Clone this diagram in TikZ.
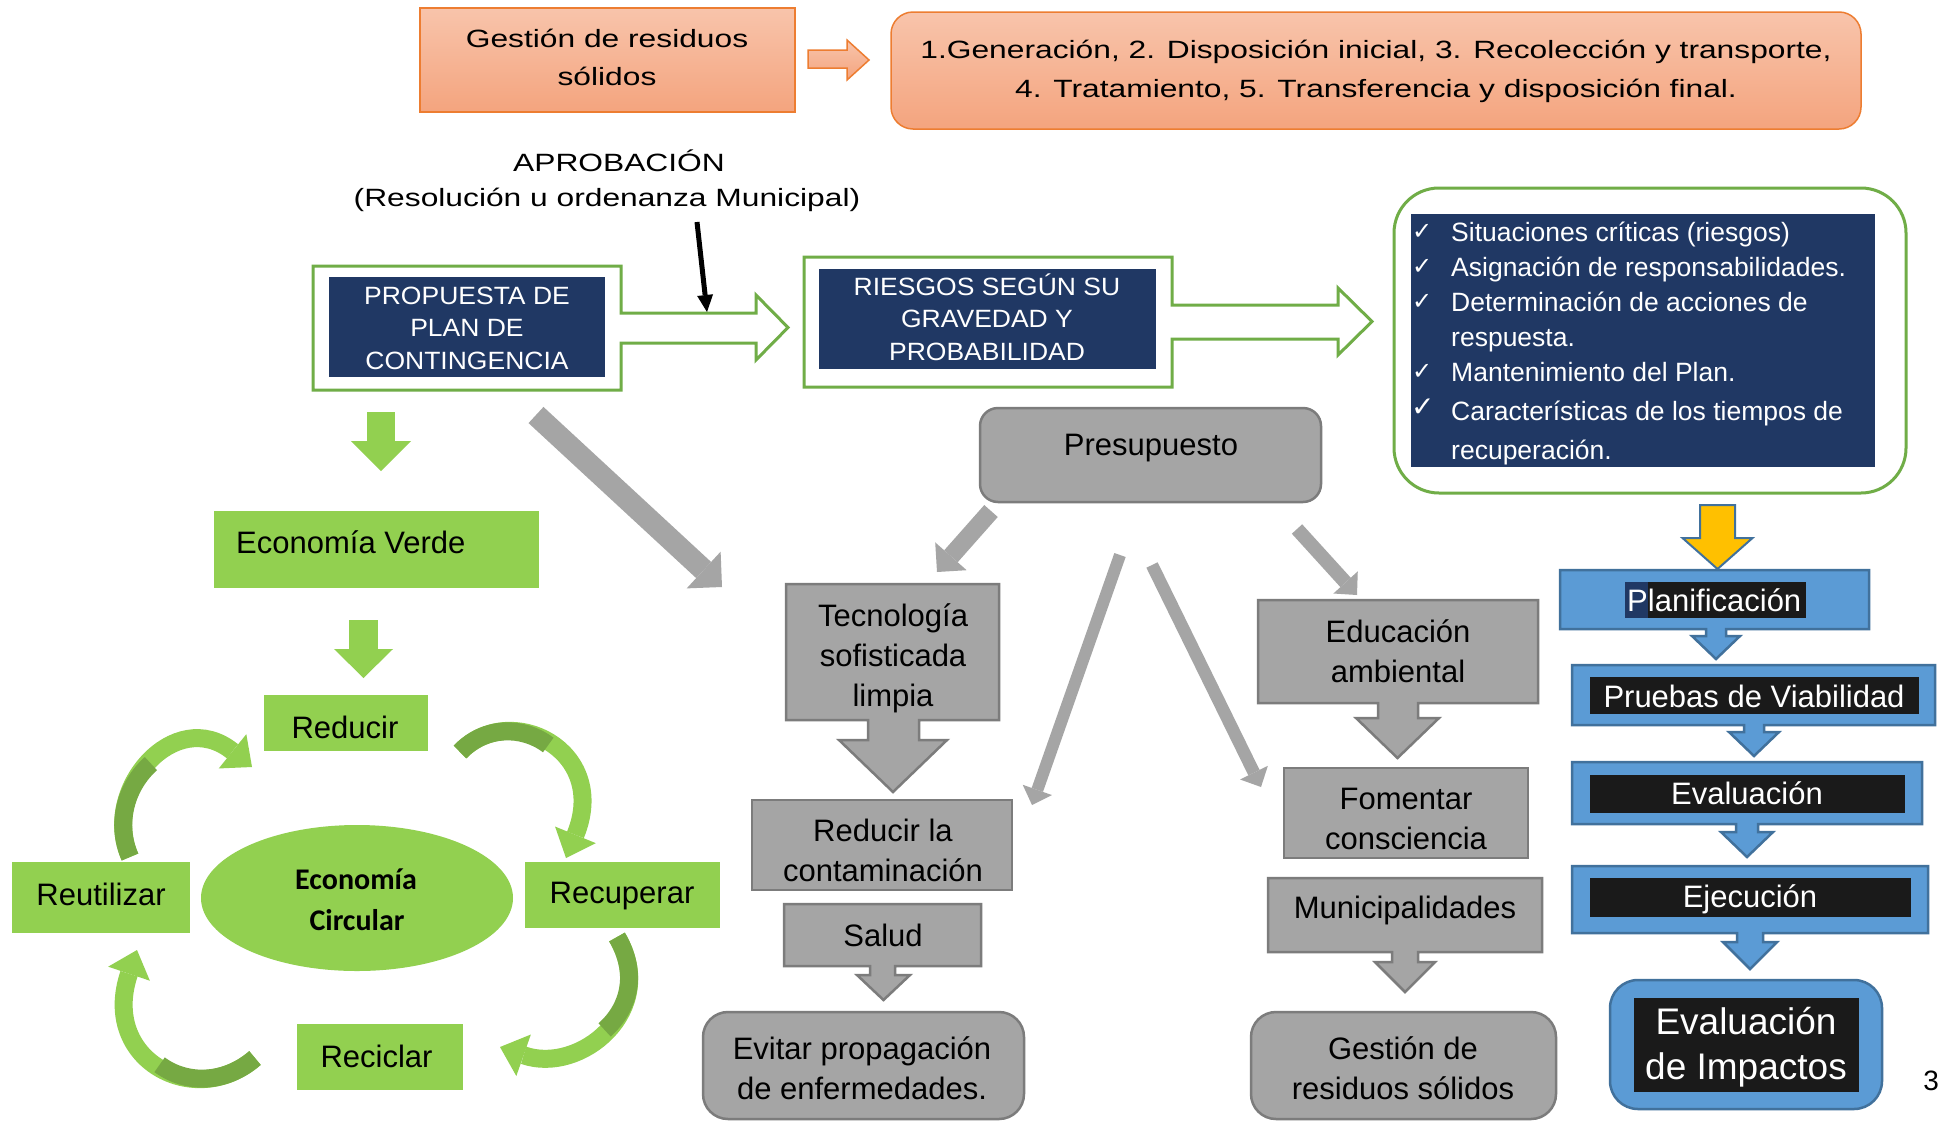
\documentclass[tikz,border=0pt]{standalone}
\usepackage{fontspec}
\setmainfont{Liberation Sans}
\newfontfamily\wideLS[FakeStretch=1.27]{Liberation Sans}
\newfontfamily\midLS[FakeStretch=1.06]{Liberation Sans}
\newfontfamily\carlitoF{Carlito}
\newfontfamily\djv{DejaVu Sans}
\usetikzlibrary{arrows.meta,shapes.geometric}
\definecolor{orB}{HTML}{ED7D31}
\definecolor{orT}{HTML}{F8C4AB}
\definecolor{orBt}{HTML}{F4A47E}
\definecolor{grB}{HTML}{70AD47}
\definecolor{navy}{HTML}{203864}
\definecolor{lgr}{HTML}{92D050}
\definecolor{dgr}{HTML}{76A943}
\definecolor{gyF}{HTML}{A5A5A5}
\definecolor{gyB}{HTML}{7C7C7C}
\definecolor{blF}{HTML}{5B9BD5}
\definecolor{blB}{HTML}{41719C}
\definecolor{yel}{HTML}{FFC000}
\definecolor{hlk}{HTML}{1A1A1A}
\newcommand\setfs[2]{\fontsize{#1}{#2}\selectfont}
\tikzset{
 orbox/.style={draw=orB, line width=1.5pt, top color=orT, bottom color=orBt},
 greenline/.style={draw=grB, line width=3pt, fill=white},
 gybox/.style={fill=gyF, draw=gyB, line width=2.5pt},
 blbox/.style={fill=blF, draw=blB, line width=2.5pt},
 gbox/.style={fill=lgr, inner sep=0pt},
 emptybox/.style={inner sep=0pt},
 txt/.style={inner sep=0pt, font=\setfs{31}{40}},
 ctxt/.style={align=center, inner sep=0pt, font=\setfs{31}{40}},
 wtxt/.style={inner sep=0pt, text=white, font=\setfs{31}{40}},
 chktxt/.style={anchor=base west, inner sep=0pt, text=white, font=\setfs{26.5}{35}},
 chkmark/.style={anchor=base west, inner sep=0pt, text=white, font=\djv\setfs{24}{28}},
 gyarrow/.style={draw=gyF, line width=#1},
 grarrow/.style={draw=lgr, line width=#1},
 curvarr/.style={draw=lgr, line width=18pt, -{Triangle[length=25pt,width=44pt,line width=0pt]}},
 curvdark/.style={draw=dgr, line width=18pt},
}
\begin{document}
\begin{tikzpicture}[x=1pt,y=-1pt]
\useasboundingbox (0,0) rectangle (1940,1122);
\fill[white] (0,0) rectangle (1940,1122);

% ---------- top row ----------
\node[orbox, emptybox, minimum width=375, minimum height=104] (gest) at (607.5,60) {};
\node[align=center, inner sep=0pt, font=\wideLS\setfs{25}{38}] (gestT) at (607,58.7) {\strut Gestión de residuos\\\strut sólidos};
\path[orbox] (808,50) -- (847,50) -- (847,40) -- (869,60) -- (847,80) -- (847,68) -- (808,68) -- cycle;
\node[orbox, emptybox, rounded corners=22pt, minimum width=970, minimum height=117] (proc) at (1376,70.5) {};
\node[align=center, inner sep=0pt, font=\wideLS\setfs{25}{39}] (procT) at (1376,69.7) {\strut 1.Generación, 2. Disposición inicial, 3. Recolección y transporte,\\\strut 4. Tratamiento, 5. Transferencia y disposición final.};

% ---------- aprobacion ----------
\node[anchor=base, inner sep=0pt, font=\wideLS\setfs{25}{30}] (aprob1) at (619,171) {APROBACIÓN};
\node[anchor=base, inner sep=0pt, font=\wideLS\setfs{25}{30}] (aprob2) at (607,206) {(Resolución u ordenanza Municipal)};
\coordinate (apS) at (697,222);
\coordinate (apE) at (707,312);

% ---------- propuesta ----------
\path[greenline] (313,266) -- (621,266) -- (621,313) -- (756,313) -- (756,295) -- (788,327.5) -- (756,360) -- (756,343) -- (621,343) -- (621,390) -- (313,390) -- cycle;
\node[fill=navy, emptybox, minimum width=276, minimum height=100] (prop) at (467,327) {};
\node[align=center, inner sep=0pt, text=white, font=\midLS\setfs{25}{32.5}] (propT) at (467,330) {\strut PROPUESTA DE\\\strut PLAN DE\\\strut CONTINGENCIA};
\draw[line width=5pt, -{Triangle[length=17pt,width=16pt,line width=0pt]}] (apS) -- (apE);

% ---------- riesgos ----------
\path[greenline] (804,257) -- (1172,257) -- (1172,305) -- (1338,305) -- (1338,288) -- (1372,321.5) -- (1338,355) -- (1338,339) -- (1172,339) -- (1172,387) -- (804,387) -- cycle;
\node[fill=navy, emptybox, minimum width=337, minimum height=100] (ries) at (987.5,319) {};
\node[align=center, inner sep=0pt, text=white, font=\midLS\setfs{25}{32.5}] (riesT) at (987,321) {\strut RIESGOS SEGÚN SU\\\strut GRAVEDAD Y\\\strut PROBABILIDAD};

% ---------- checklist ----------
\node[draw=grB, line width=3pt, fill=white, rounded corners=45pt, emptybox, minimum width=512, minimum height=305] (chkbox) at (1650,340.5) {};
\node[fill=navy, emptybox, minimum width=464, minimum height=253] (chknavy) at (1643,340.5) {};
\node[chkmark] (c1) at (1412,239) {✓};
\node[chkmark] (c2) at (1412,274) {✓};
\node[chkmark] (c3) at (1412,309) {✓};
\node[chkmark] (c4) at (1412,379) {✓};
\node[chkmark, font=\djv\setfs{28}{30}] (c5) at (1411,416) {✓};
\node[chktxt] (i1) at (1451,241) {Situaciones críticas (riesgos)};
\node[chktxt] (i2) at (1451,276) {Asignación de responsabilidades.};
\node[chktxt] (i3) at (1451,311) {Determinación de acciones de};
\node[chktxt] (i3b) at (1451,346) {respuesta.};
\node[chktxt] (i4) at (1451,381) {Mantenimiento del Plan.};
\node[chktxt] (i5) at (1451,420) {Características de los tiempos de};
\node[chktxt] (i5b) at (1451,459) {recuperación.};

% ---------- presupuesto & grey tree ----------
\node[gybox, emptybox, rounded corners=18pt, minimum width=341, minimum height=94] (pres) at (1150.5,455) {};
\node[anchor=base, txt] (presT) at (1151,455) {Presupuesto};

\path[gybox] (786,584) -- (999,584) -- (999,720) -- (919,720) -- (919,740) -- (947,740) -- (893,792) -- (839,740) -- (868,740) -- (868,720) -- (786,720) -- cycle;
\node[ctxt] (tecT) at (893,658) {\strut Tecnología\\\strut sofisticada\\\strut limpia};

\node[gybox, emptybox, minimum width=260, minimum height=90] (redc) at (882,845) {};
\node[ctxt] (redcT) at (883,853) {\strut Reducir la\\\strut contaminación};

\path[gybox] (784,904) -- (981,904) -- (981,966) -- (895,966) -- (895,975) -- (910,975) -- (883.5,1000) -- (857,975) -- (870,975) -- (870,966) -- (784,966) -- cycle;
\node[anchor=base, txt] (saludT) at (883,946) {Salud};

\node[gybox, emptybox, rounded corners=25pt, minimum width=321, minimum height=107] (evit) at (863.5,1065.5) {};
\node[ctxt] (evitT) at (862,1071) {\strut Evitar propagación\\\strut de enfermedades.};

\path[gybox] (1258,600) -- (1538,600) -- (1538,703) -- (1418,703) -- (1418,718) -- (1439,718) -- (1397.5,758) -- (1356,718) -- (1378,718) -- (1378,703) -- (1258,703) -- cycle;
\node[ctxt] (eduT) at (1398,654) {\strut Educación\\\strut ambiental};

\node[gybox, emptybox, minimum width=244, minimum height=90] (fom) at (1406,813) {};
\node[ctxt] (fomT) at (1406,821) {\strut Fomentar\\\strut consciencia};

\path[gybox] (1268,878) -- (1542,878) -- (1542,952) -- (1418,952) -- (1418,962) -- (1435,962) -- (1405,992) -- (1375,962) -- (1392,962) -- (1392,952) -- (1268,952) -- cycle;
\node[anchor=base, txt] (muniT) at (1405,918) {Municipalidades};

\node[gybox, emptybox, rounded corners=25pt, minimum width=305, minimum height=107] (gres) at (1403.5,1065.5) {};
\node[ctxt] (gresT) at (1403,1071) {\strut Gestión de\\\strut residuos sólidos};

% grey diagonal arrows
\coordinate (a1s) at (536,415);  \coordinate (a1e) at (722,587);
\coordinate (a2s) at (991,511);  \coordinate (a2e) at (937,572);
\coordinate (a3s) at (1120,555); \coordinate (a3e) at (1032,805);
\coordinate (a4s) at (1152,565); \coordinate (a4e) at (1261,787);
\coordinate (a5s) at (1297,529); \coordinate (a5e) at (1357,595);
\draw[gyarrow=22pt, -{Triangle[length=25pt,width=50pt,line width=0pt]}] (a1s) -- (a1e);
\draw[gyarrow=18pt, -{Triangle[length=21pt,width=42pt,line width=0pt]}] (a2s) -- (a2e);
\draw[gyarrow=12pt, -{Triangle[length=16pt,width=31pt,line width=0pt]}] (a3s) -- (a3e);
\draw[gyarrow=12.5pt, -{Triangle[length=16pt,width=31pt,line width=0pt]}] (a4s) -- (a4e);
\draw[gyarrow=14pt, -{Triangle[length=17pt,width=33pt,line width=0pt]}] (a5s) -- (a5e);

% ---------- green part ----------
\coordinate (g1s) at (381,412); \coordinate (g1e) at (381,471);
\draw[grarrow=28pt, -{Triangle[length=30pt,width=60pt,line width=0pt]}] (g1s) -- (g1e);
\node[gbox, minimum width=325, minimum height=77] (ecov) at (376.5,549.5) {};
\node[anchor=base west, txt] (ecovT) at (236,553) {Economía Verde};
\coordinate (g2s) at (363.5,620); \coordinate (g2e) at (363.5,678);
\draw[grarrow=29pt, -{Triangle[length=29pt,width=59pt,line width=0pt]}] (g2s) -- (g2e);

\node[gbox, minimum width=164, minimum height=56] (red) at (346,723) {};
\node[anchor=base, txt] (redT) at (345,738) {Reducir};
\node[gbox, minimum width=178, minimum height=71] (reu) at (101,897.5) {};
\node[anchor=base, txt] (reuT) at (101,905) {Reutilizar};
\node[gbox, minimum width=195, minimum height=66] (rec) at (622.5,895) {};
\node[anchor=base, txt] (recT) at (622,903) {Recuperar};
\node[gbox, minimum width=166, minimum height=66] (rcl) at (380,1057) {};
\node[anchor=base, txt] (rclT) at (376.5,1067) {Reciclar};
\node[ellipse, fill=lgr, inner sep=0pt, minimum width=312, minimum height=146] (ecoc) at (357,898) {};
\node[anchor=base, inner sep=0pt, font=\carlitoF\bfseries\setfs{30}{36}] (ecocT1) at (356,889) {Economía};
\node[anchor=base, inner sep=0pt, font=\carlitoF\bfseries\setfs{30}{36}] (ecocT2) at (357,930) {Circular};

\coordinate (c1s) at (130,857); \coordinate (c1e) at (252,767);
\coordinate (c2s) at (460,752); \coordinate (c2e) at (566,858);
\coordinate (c3s) at (617,937); \coordinate (c3e) at (500,1047);
\coordinate (c4s) at (255,1058); \coordinate (c4e) at (137,950);
\draw[curvarr] (c1s) .. controls (100,790) and (175,705) .. (c1e);
\draw[curvarr] (c2s) .. controls (510,700) and (610,750) .. (c2e);
\draw[curvarr] (c3s) .. controls (660,1010) and (580,1075) .. (c3e);
\draw[curvarr] (c4s) .. controls (195,1110) and (100,1060) .. (c4e);
% darker (back) side of each curved ribbon, near its tail
\draw[curvdark] (c1s) .. controls (115,823.5) and (126.25,785.5) .. (150.9,763.6);
\draw[curvdark] (c2s) .. controls (485,726) and (522.5,725.5) .. (548.25,745);
\draw[curvdark] (c3s) .. controls (638.5,973.5) and (629.25,1008) .. (604.6,1029.9);
\draw[curvdark] (c4s) .. controls (225,1084) and (186.25,1084.5) .. (159.6,1064.75);

% ---------- blue chain ----------
\path[fill=yel, draw=blB, line width=2pt] (1700,505) -- (1735,505) -- (1735,538) -- (1752.5,538) -- (1717.5,569) -- (1682.5,538) -- (1700,538) -- cycle;
\path[blbox] (1560,570) -- (1869,570) -- (1869,629) -- (1726,629) -- (1726,636) -- (1740,636) -- (1716,659) -- (1692,636) -- (1706,636) -- (1706,629) -- (1560,629) -- cycle;
\path[blbox] (1572,665) -- (1935,665) -- (1935,725) -- (1764,725) -- (1764,732) -- (1779,732) -- (1754,756) -- (1729,732) -- (1744,732) -- (1744,725) -- (1572,725) -- cycle;
\path[blbox] (1572,762) -- (1922,762) -- (1922,824) -- (1758,824) -- (1758,832) -- (1773,832) -- (1747,857) -- (1721,832) -- (1736,832) -- (1736,824) -- (1572,824) -- cycle;
\path[blbox] (1572,866) -- (1928,866) -- (1928,933) -- (1763,933) -- (1763,942) -- (1777,942) -- (1750,969) -- (1723,942) -- (1737,942) -- (1737,933) -- (1572,933) -- cycle;
\node[blbox, emptybox, rounded corners=28pt, minimum width=272, minimum height=129] (imp) at (1746,1044.5) {};

\fill[hlk] (1625,582) rectangle (1806,618);
\fill[navy] (1625,582) rectangle (1648,618);
\node[anchor=base west, wtxt] (planT) at (1627,611) {Planificación};
\fill[hlk] (1590,677) rectangle (1919,714);
\node[anchor=base, wtxt] (pruT) at (1754,707) {Pruebas de Viabilidad};
\fill[hlk] (1590,775) rectangle (1905,813);
\node[anchor=base, wtxt] (evalT) at (1747,804) {Evaluación};
\fill[hlk] (1590,878) rectangle (1911,917);
\node[anchor=base, wtxt] (ejeT) at (1750,907) {Ejecución};
\fill[hlk] (1634,998) rectangle (1859,1092);
\node[anchor=base, wtxt, font=\setfs{37}{45}] (impT1) at (1746,1034) {Evaluación};
\node[anchor=base, wtxt, font=\setfs{37}{45}] (impT2) at (1746,1079) {de Impactos};

% page number at the right edge
\node[anchor=base east, txt, font=\setfs{28}{34}] (pg) at (1939,1090) {3};
\end{tikzpicture}
\end{document}
